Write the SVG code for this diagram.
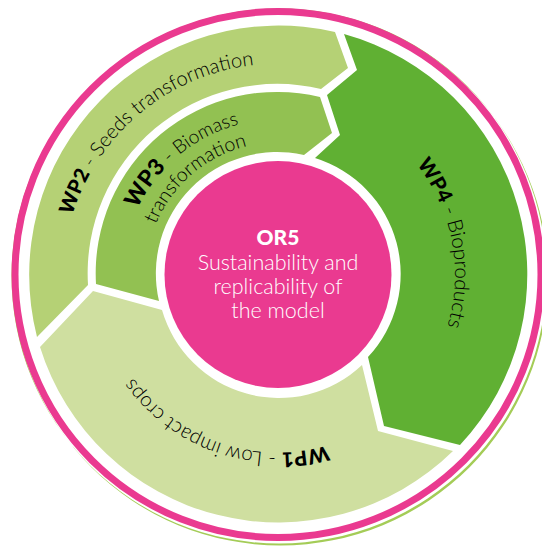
<svg xmlns="http://www.w3.org/2000/svg" width="542" height="546" viewBox="0 0 542 546">
<style>
text{font-family:"Lato","Noto Sans",sans-serif;font-weight:300;fill:#000;font-size:20.500px}
.b{font-weight:900;fill:#000}
.s{font-size:20.200px}
.m{font-size:19.600px}
.n{font-size:19.200px}
.mb{font-size:22.500px}
.c{fill:#fff;font-size:21.500px;text-anchor:middle}
.cb{font-weight:900;font-size:21px}
</style>
<defs>
<path id="a2" d="M72.400 215.200A214 214 0 0 1 491 274.500"/>
<path id="a3a" d="M137.500 209A155 155 0 0 1 433 274.500"/>
<path id="a3b" d="M155.900 224.300A132 132 0 0 1 410 274.500"/>
<path id="a4" d="M416.500 164.300A177 177 0 0 1 278 451.500"/>
<path id="a1" d="M327.300 445.500A178 178 0 0 1 100 274.500"/>
</defs>
<rect width="542" height="546" fill="#fff"/>
<path id="crescent" fill="#a4cc57" fill-rule="evenodd" d="M548 278A267.500 267.500 0 1 1 13 278A267.500 267.500 0 1 1 548 278ZM546.500 276A267.500 267.500 0 1 0 11.500 276A267.500 267.500 0 1 0 546.500 276Z"/>
<circle id="ring" cx="278" cy="274.500" r="263" fill="#fff" stroke="#ea3a90" stroke-width="7"/>
<g id="wp2">
<path fill="#b5d175" d="M335 32L348 68L321 89A189.500 189.500 0 0 0 88 285L37 337A249.500 249.500 0 0 1 335 32Z"/>
<text class="s"><textPath href="#a2"><tspan class="b">WP2</tspan> - Seeds transformation</textPath></text>
</g>
<g id="wp3">
<path fill="#92c152" d="M96 284L159 301A121.500 121.500 0 0 1 304 155L332 133L320 97A181.500 181.500 0 0 0 96 284Z"/>
<text class="n"><textPath href="#a3a"><tspan class="b mb">WP3</tspan> - Biomass</textPath></text>
<text class="m"><textPath href="#a3b">transformation</textPath></text>
</g>
<g id="wp4">
<path fill="#60b033" d="M344 34L357 70L327 95L340 135L315 158A121.500 121.500 0 0 1 368 357L384 426L460 445A249.500 249.500 0 0 0 344 34Z"/>
<text><textPath href="#a4"><tspan class="b">WP4</tspan> - Bioproducts</textPath></text>
</g>
<g id="wp1">
<path fill="#cfdfa0" d="M93 291L162 310A121.500 121.500 0 0 0 362 365L378 431L453 451A249.500 249.500 0 0 1 40 347Z"/>
<text><textPath href="#a1"><tspan class="b">WP1</tspan> - Low impact crops</textPath></text>
</g>
<g id="or5">
<circle cx="278" cy="274.500" r="113.500" fill="#ea3a90"/>
<text class="c cb" x="278" y="245">OR5</text>
<text class="c" x="278" y="270">Sustainability and</text>
<text class="c" x="278" y="294">replicability of</text>
<text class="c" x="278" y="318">the model</text>
</g>
</svg>
